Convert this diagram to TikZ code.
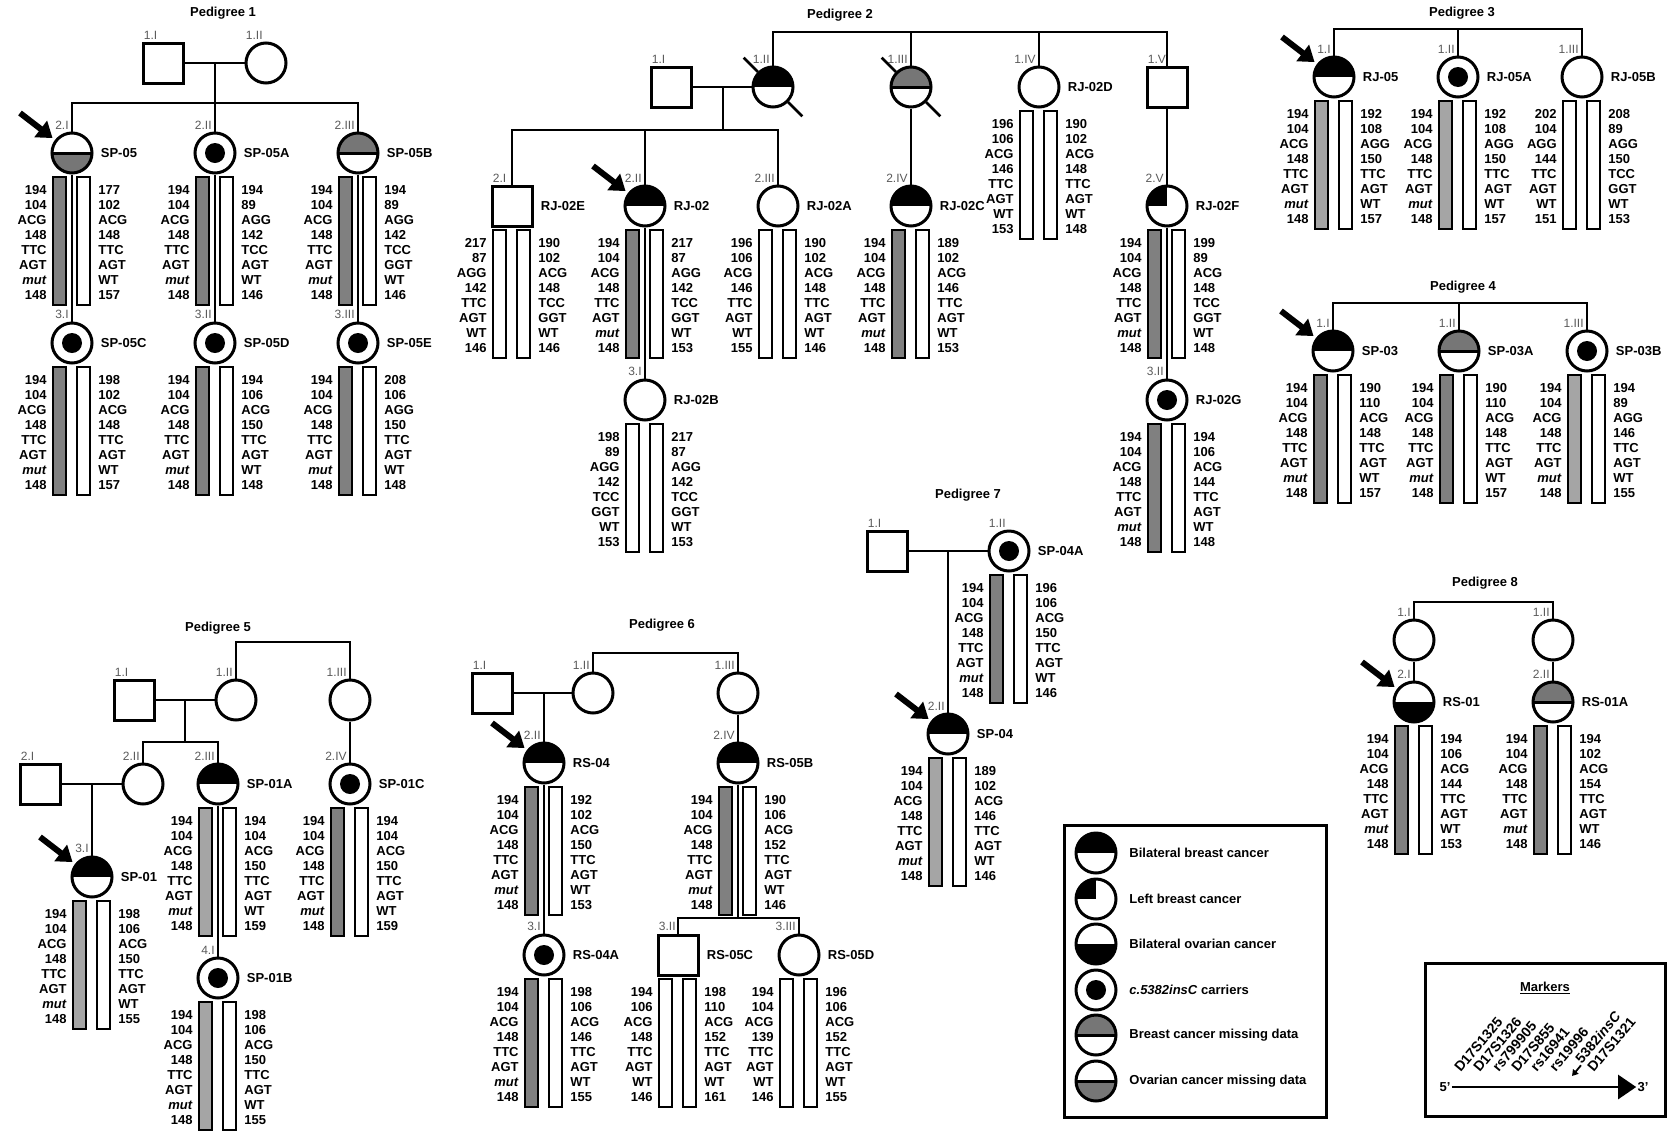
\documentclass[tikz,border=0pt]{standalone}
\usepackage{fontspec}
\setmainfont{Liberation Sans}
\usepackage{tikz}
\usetikzlibrary{positioning}
\usetikzlibrary{arrows.meta}
\definecolor{symgray}{RGB}{118,118,118}
\definecolor{bargray}{RGB}{128,128,128}
\definecolor{barlite}{RGB}{165,165,165}
\definecolor{gencol}{RGB}{90,90,90}
\tikzset{
    fem/.style = {circle, draw=black, fill=white, line width=3pt, minimum size=40pt, inner sep=0pt},
    mal/.style = {rectangle, draw=black, fill=white, line width=3pt, minimum size=40pt, inner sep=0pt},
    bbc/.style = {fem, path picture={\fill[black] (path picture bounding box.west) rectangle (path picture bounding box.north east);}},
    boc/.style = {fem, path picture={\fill[black] (path picture bounding box.west) rectangle (path picture bounding box.south east);}},
    lbc/.style = {fem, path picture={\fill[black] (path picture bounding box.center) rectangle (path picture bounding box.north west);}},
    car/.style = {fem, path picture={\fill[black] (path picture bounding box.center) circle (10pt);}},
    bmd/.style = {fem, path picture={\fill[symgray] (path picture bounding box.west) rectangle (path picture bounding box.north east);
                  \draw[line width=3pt] (path picture bounding box.west) -- (path picture bounding box.east);}},
    omd/.style = {fem, path picture={\fill[symgray] (path picture bounding box.west) rectangle (path picture bounding box.south east);
                  \draw[line width=3pt] (path picture bounding box.west) -- (path picture bounding box.east);}},
}
% person: style, name, x, y, generation label, label style
\newcommand{\pers}[6]{\node[#1] (#2) at (#3,#4) {}; \node[#6] (#2g) at (#2.north) {#5};}
\newcommand{\idl}[2]{\node[idn, right=6pt of #1] (#1l) {#2};}
% haplotype bars under a person
\newcommand{\geno}[5]{%
  \draw[#2] ([shift={(-19,24)}]#1.center) rectangle ([shift={(-6,152)}]#1.center);
  \draw[#3] ([shift={(5,24)}]#1.center) rectangle ([shift={(18,152)}]#1.center);
  \node[gtl] (#1x) at ([shift={(-24,30.7)}]#1.center) {#4};
  \node[gtr] (#1y) at ([shift={(25,30.7)}]#1.center) {#5};}
\newcommand{\mutl}{194\\104\\ACG\\148\\TTC\\AGT\\\textit{mut}\\148}
\newcommand{\prob}[1]{\draw[parrow] ([shift={(-52,-40)}]#1.center) -- (#1);}
\newcommand{\deceased}[1]{\draw[slash] (#1.north west) -- ++(135:20pt); \draw[slash] (#1.south east) -- ++(-45:20pt);}

\begin{document}
\begin{tikzpicture}[
	x=1pt, y=-1pt,
	line width=2.8pt
]
\tikzset{
    gen/.style = {text=gencol, inner sep=1pt, font=\fontsize{12}{13}\selectfont},
    gc/.style = {gen, anchor=south east, xshift=-1pt},
    gs/.style = {gen, anchor=south west, xshift=-21.5pt},
    idn/.style = {inner sep=0pt, font=\fontsize{13}{15}\selectfont\bfseries},
    ttl/.style = {inner sep=0pt, font=\fontsize{13}{15}\selectfont\bfseries},
    gtl/.style = {anchor=north east, align=right, inner sep=0pt, font=\fontsize{13}{15}\selectfont\bfseries},
    gtr/.style = {anchor=north west, align=left, inner sep=0pt, font=\fontsize{13}{15}\selectfont\bfseries},
    gbar/.style = {draw=black, fill=bargray, line width=1.2pt},
    lbar/.style = {draw=black, fill=barlite, line width=1.2pt},
    wbar/.style = {draw=black, fill=white, line width=1.2pt},
    parrow/.style = {line width=6pt, -{Triangle[length=15pt,width=20pt]}, shorten >=3pt},
    slash/.style = {line width=2.8pt},
    box/.style = {line width=3pt},
    keyt/.style = {anchor=west, inner sep=0pt, font=\fontsize{13}{15}\selectfont\bfseries},
    mk/.style = {inner sep=0pt, font=\fontsize{13}{15}\selectfont\bfseries},
    mkr/.style = {inner sep=0pt, rotate=50, anchor=base west, font=\fontsize{14}{16}\selectfont\bfseries},
}
\useasboundingbox (0,0) rectangle (1674,1144);
%
% Pedigree 1
\node[ttl] (t1) at (223,13) {Pedigree 1};
\pers{mal}{p1a}{163}{63}{1.I}{gs}
\pers{fem}{p1b}{266}{63}{1.II}{gc}
\pers{omd}{sp05}{72}{153}{2.I}{gc}
\pers{car}{sp05a}{215}{153}{2.II}{gc}
\pers{bmd}{sp05b}{358}{153}{2.III}{gc}
\pers{car}{sp05c}{72}{343}{3.I}{gc}
\pers{car}{sp05d}{215}{343}{3.II}{gc}
\pers{car}{sp05e}{358}{343}{3.III}{gc}
\idl{sp05}{SP-05} \idl{sp05a}{SP-05A} \idl{sp05b}{SP-05B}
\idl{sp05c}{SP-05C} \idl{sp05d}{SP-05D} \idl{sp05e}{SP-05E}
\coordinate (p1m) at (215,63);
\coordinate (p1s) at (215,103);
\draw (p1a) -- (p1b);
\draw (p1m) -- (sp05a);
\draw (sp05) |- (p1s) -| (sp05b);
\draw (sp05) -- (sp05c);
\draw (sp05a) -- (sp05d);
\draw (sp05b) -- (sp05e);
\geno{sp05}{gbar}{wbar}{\mutl}{177\\102\\ACG\\148\\TTC\\AGT\\WT\\157}
\geno{sp05a}{gbar}{wbar}{\mutl}{194\\89\\AGG\\142\\TCC\\AGT\\WT\\146}
\geno{sp05b}{gbar}{wbar}{\mutl}{194\\89\\AGG\\142\\TCC\\GGT\\WT\\146}
\geno{sp05c}{gbar}{wbar}{\mutl}{198\\102\\ACG\\148\\TTC\\AGT\\WT\\157}
\geno{sp05d}{gbar}{wbar}{\mutl}{194\\106\\ACG\\150\\TTC\\AGT\\WT\\148}
\geno{sp05e}{gbar}{wbar}{\mutl}{208\\106\\AGG\\150\\TTC\\AGT\\WT\\148}
\prob{sp05}
%
% Pedigree 2
\node[ttl] (t2) at (840,15) {Pedigree 2};
\pers{mal}{p2a}{671}{87}{1.I}{gs}
\pers{bbc}{p2b}{773}{87}{1.II}{gc}
\pers{bmd}{p2c}{911}{87}{1.III}{gc}
\pers{fem}{rj02d}{1039}{87}{1.IV}{gc}
\pers{mal}{p2e}{1167}{87}{1.V}{gs}
\pers{mal}{rj02e}{512}{206}{2.I}{gs}
\pers{bbc}{rj02}{645}{206}{2.II}{gc}
\pers{fem}{rj02a}{778}{206}{2.III}{gc}
\pers{bbc}{rj02c}{911}{206}{2.IV}{gc}
\pers{lbc}{rj02f}{1167}{206}{2.V}{gc}
\pers{fem}{rj02b}{645}{400}{3.I}{gc}
\pers{car}{rj02g}{1167}{400}{3.II}{gc}
\idl{rj02d}{RJ-02D} \idl{rj02e}{RJ-02E} \idl{rj02}{RJ-02} \idl{rj02a}{RJ-02A}
\idl{rj02c}{RJ-02C} \idl{rj02f}{RJ-02F} \idl{rj02b}{RJ-02B} \idl{rj02g}{RJ-02G}
\coordinate (p2t) at (970,32);
\coordinate (p2m) at (723,87);
\coordinate (p2s) at (723,130);
\draw (p2a) -- (p2b);
\draw (p2m) -- (p2s);
\draw (rj02e) |- (p2s) -| (rj02a);
\draw (rj02) -- (rj02 |- p2s);
\draw (p2b) |- (p2t) -| (p2e);
\draw (p2c) -- (p2c |- p2t);
\draw (rj02d) -- (rj02d |- p2t);
\draw (p2c) -- (rj02c);
\draw (p2e) -- (rj02f);
\draw (rj02) -- (rj02b);
\draw (rj02f) -- (rj02g);
\deceased{p2b}
\deceased{p2c}
\geno{rj02d}{wbar}{wbar}{196\\106\\ACG\\146\\TTC\\AGT\\WT\\153}{190\\102\\ACG\\148\\TTC\\AGT\\WT\\148}
\geno{rj02e}{wbar}{wbar}{217\\87\\AGG\\142\\TTC\\AGT\\WT\\146}{190\\102\\ACG\\148\\TCC\\GGT\\WT\\146}
\geno{rj02}{gbar}{wbar}{\mutl}{217\\87\\AGG\\142\\TCC\\GGT\\WT\\153}
\geno{rj02a}{wbar}{wbar}{196\\106\\ACG\\146\\TTC\\AGT\\WT\\155}{190\\102\\ACG\\148\\TTC\\AGT\\WT\\146}
\geno{rj02c}{gbar}{wbar}{\mutl}{189\\102\\ACG\\146\\TTC\\AGT\\WT\\153}
\geno{rj02f}{gbar}{wbar}{\mutl}{199\\89\\ACG\\148\\TCC\\GGT\\WT\\148}
\geno{rj02b}{wbar}{wbar}{198\\89\\AGG\\142\\TCC\\GGT\\WT\\153}{217\\87\\AGG\\142\\TCC\\GGT\\WT\\153}
\geno{rj02g}{gbar}{wbar}{\mutl}{194\\106\\ACG\\144\\TTC\\AGT\\WT\\148}
\prob{rj02}
%
% Pedigree 3
\node[ttl] (t3) at (1462,13) {Pedigree 3};
\pers{bbc}{rj05}{1334}{77}{1.I}{gc}
\pers{car}{rj05a}{1458}{77}{1.II}{gc}
\pers{fem}{rj05b}{1582}{77}{1.III}{gc}
\idl{rj05}{RJ-05} \idl{rj05a}{RJ-05A} \idl{rj05b}{RJ-05B}
\coordinate (p3t) at (1458,29);
\draw (rj05) |- (p3t) -| (rj05b);
\draw (rj05a) -- (p3t);
\geno{rj05}{lbar}{wbar}{\mutl}{192\\108\\AGG\\150\\TTC\\AGT\\WT\\157}
\geno{rj05a}{lbar}{wbar}{\mutl}{192\\108\\AGG\\150\\TTC\\AGT\\WT\\157}
\geno{rj05b}{wbar}{wbar}{202\\104\\AGG\\144\\TTC\\AGT\\WT\\151}{208\\89\\AGG\\150\\TCC\\GGT\\WT\\153}
\prob{rj05}
%
% Pedigree 4
\node[ttl] (t4) at (1463,287) {Pedigree 4};
\pers{bbc}{sp03}{1333}{351}{1.I}{gc}
\pers{bmd}{sp03a}{1459}{351}{1.II}{gc}
\pers{car}{sp03b}{1587}{351}{1.III}{gc}
\idl{sp03}{SP-03} \idl{sp03a}{SP-03A} \idl{sp03b}{SP-03B}
\coordinate (p4t) at (1459,303);
\draw (sp03) |- (p4t) -| (sp03b);
\draw (sp03a) -- (p4t);
\geno{sp03}{gbar}{wbar}{\mutl}{190\\110\\ACG\\148\\TTC\\AGT\\WT\\157}
\geno{sp03a}{gbar}{wbar}{\mutl}{190\\110\\ACG\\148\\TTC\\AGT\\WT\\157}
\geno{sp03b}{lbar}{wbar}{\mutl}{194\\89\\AGG\\146\\TTC\\AGT\\WT\\155}
\prob{sp03}
%
% Pedigree 5
\node[ttl] (t5) at (218,628) {Pedigree 5};
\pers{mal}{p5a}{134}{700}{1.I}{gs}
\pers{fem}{p5b}{236}{700}{1.II}{gc}
\pers{fem}{p5c}{350}{700}{1.III}{gc}
\pers{mal}{p5e}{40}{784}{2.I}{gs}
\pers{fem}{p5d}{143}{784}{2.II}{gc}
\pers{bbc}{sp01a}{218}{784}{2.III}{gc}
\pers{car}{sp01c}{350}{784}{2.IV}{gc}
\pers{bbc}{sp01}{92}{877}{3.I}{gc}
\pers{car}{sp01b}{218}{978}{4.I}{gc}
\idl{sp01a}{SP-01A} \idl{sp01c}{SP-01C} \idl{sp01}{SP-01} \idl{sp01b}{SP-01B}
\coordinate (p5t) at (290,642);
\coordinate (p5m) at (185,700);
\coordinate (p5s) at (185,742);
\coordinate (p5n) at (92,784);
\draw (p5b) |- (p5t) -| (p5c);
\draw (p5a) -- (p5b);
\draw (p5m) -- (p5s);
\draw (p5d) |- (p5s) -| (sp01a);
\draw (p5e) -- (p5d);
\draw (p5n) -- (sp01);
\draw (p5c) -- (sp01c);
\draw (sp01a) -- (sp01b);
\geno{sp01a}{lbar}{wbar}{\mutl}{194\\104\\ACG\\150\\TTC\\AGT\\WT\\159}
\geno{sp01c}{gbar}{wbar}{\mutl}{194\\104\\ACG\\150\\TTC\\AGT\\WT\\159}
\geno{sp01}{lbar}{wbar}{\mutl}{198\\106\\ACG\\150\\TTC\\AGT\\WT\\155}
\geno{sp01b}{lbar}{wbar}{\mutl}{198\\106\\ACG\\150\\TTC\\AGT\\WT\\155}
\prob{sp01}
%
% Pedigree 6
\node[ttl] (t6) at (662,625) {Pedigree 6};
\pers{mal}{p6a}{492}{693}{1.I}{gs}
\pers{fem}{p6b}{593}{693}{1.II}{gc}
\pers{fem}{p6c}{738}{693}{1.III}{gc}
\pers{bbc}{rs04}{544}{763}{2.II}{gc}
\pers{bbc}{rs05b}{738}{763}{2.IV}{gc}
\pers{car}{rs04a}{544}{955}{3.I}{gc}
\pers{mal}{rs05c}{678}{955}{3.II}{gs}
\pers{fem}{rs05d}{799}{955}{3.III}{gc}
\idl{rs04}{RS-04} \idl{rs05b}{RS-05B} \idl{rs04a}{RS-04A} \idl{rs05c}{RS-05C} \idl{rs05d}{RS-05D}
\coordinate (p6t) at (660,653);
\coordinate (p6m) at (544,693);
\coordinate (p6s) at (738,918);
\draw (p6b) |- (p6t) -| (p6c);
\draw (p6a) -- (p6b);
\draw (p6m) -- (rs04);
\draw (p6c) -- (rs05b);
\draw (rs04) -- (rs04a);
\draw (rs05b) -- (p6s);
\draw (rs05c) |- (p6s) -| (rs05d);
\geno{rs04}{gbar}{wbar}{\mutl}{192\\102\\ACG\\150\\TTC\\AGT\\WT\\153}
\geno{rs05b}{gbar}{wbar}{\mutl}{190\\106\\ACG\\152\\TTC\\AGT\\WT\\146}
\geno{rs04a}{gbar}{wbar}{\mutl}{198\\106\\ACG\\146\\TTC\\AGT\\WT\\155}
\geno{rs05c}{wbar}{wbar}{194\\106\\ACG\\148\\TTC\\AGT\\WT\\146}{198\\110\\ACG\\152\\TTC\\AGT\\WT\\161}
\geno{rs05d}{wbar}{wbar}{194\\104\\ACG\\139\\TTC\\AGT\\WT\\146}{196\\106\\ACG\\152\\TTC\\AGT\\WT\\155}
\prob{rs04}
%
% Pedigree 7
\node[ttl] (t7) at (968,495) {Pedigree 7};
\pers{mal}{p7a}{887}{551}{1.I}{gs}
\pers{car}{sp04a}{1009}{551}{1.II}{gc}
\pers{bbc}{sp04}{948}{734}{2.II}{gc}
\idl{sp04a}{SP-04A} \idl{sp04}{SP-04}
\coordinate (p7m) at (948,551);
\draw (p7a) -- (sp04a);
\draw (p7m) -- (sp04);
\geno{sp04a}{gbar}{wbar}{\mutl}{196\\106\\ACG\\150\\TTC\\AGT\\WT\\146}
\geno{sp04}{lbar}{wbar}{\mutl}{189\\102\\ACG\\146\\TTC\\AGT\\WT\\146}
\prob{sp04}
%
% Pedigree 8
\node[ttl] (t8) at (1485,583) {Pedigree 8};
\pers{fem}{p8a}{1414}{640}{1.I}{gc}
\pers{fem}{p8b}{1553}{640}{1.II}{gc}
\pers{boc}{rs01}{1414}{702}{2.I}{gc}
\pers{bmd}{rs01a}{1553}{702}{2.II}{gc}
\idl{rs01}{RS-01} \idl{rs01a}{RS-01A}
\coordinate (p8t) at (1484,602);
\draw (p8a) |- (p8t) -| (p8b);
\draw (p8a) -- (rs01);
\draw (p8b) -- (rs01a);
\geno{rs01}{gbar}{wbar}{\mutl}{194\\106\\ACG\\144\\TTC\\AGT\\WT\\153}
\geno{rs01a}{gbar}{wbar}{\mutl}{194\\102\\ACG\\154\\TTC\\AGT\\WT\\146}
\prob{rs01}
%
% key
\draw[box] (1064,825) rectangle (1326,1117);
\node[bbc] (k1) at (1096,853) {};
\node[lbc] (k2) at (1096,899) {};
\node[boc] (k3) at (1096,944) {};
\node[car] (k4) at (1096,990) {};
\node[bmd] (k5) at (1096,1035) {};
\node[omd] (k6) at (1096,1081) {};
\node[keyt] (k1t) at (1128,853) {Bilateral breast cancer};
\node[keyt] (k2t) at (1128,899) {Left breast cancer};
\node[keyt] (k3t) at (1128,944) {Bilateral ovarian cancer};
\node[keyt] (k4t) at (1128,990) {\textit{c.5382insC} carriers};
\node[keyt] (k5t) at (1128,1035) {Breast cancer missing data};
\node[keyt] (k6t) at (1128,1081) {Ovarian cancer missing data};
%
% markers
\draw[box] (1425,963) rectangle (1665,1116);
\node[mk] (mt) at (1545,988) {\underline{Markers}};
\node[mk] (m5) at (1445,1087) {5'};
\node[mk] (m3) at (1643,1087) {3'};
\draw[line width=2.5pt, -{Triangle[length=18pt,width=24pt]}] (m5) -- (m3);
\node[mkr] (m1) at (1460,1074) {D17S1325};
\node[mkr] (m2) at (1479,1074) {D17S1326};
\node[mkr] (m3a) at (1498,1074) {rs799905};
\node[mkr] (m4) at (1517,1074) {D17S855};
\node[mkr] (m6) at (1536,1074) {rs16941};
\node[mkr] (m7) at (1555,1074) {rs19996};
\coordinate (m8a) at (1572,1076);
\node[mkr] (m8) at ([shift={(50:14pt)}]m8a) {5382\textit{insC}};
\draw[line width=1.8pt, -{Triangle[length=6pt,width=7pt]}] (m8.base west) -- (m8a);
\node[mkr] (m9) at (1593,1074) {D17S1321};
\end{tikzpicture}
\end{document}
